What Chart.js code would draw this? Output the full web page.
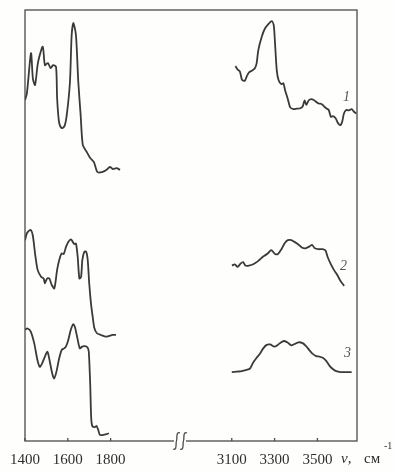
<!DOCTYPE html>
<html>
<head>
<meta charset="utf-8">
<script src="https://cdn.jsdelivr.net/npm/chart.js@4"></script>
<style>
  html, body { margin: 0; padding: 0; background: #fefefc; }
  #wrap { width: 395px; height: 472px; position: relative; }
</style>
</head>
<body>
<div id="wrap"><canvas id="spectra"></canvas></div>
<script>
// wavenumbers (cm-1) and relative intensity
const tickValues = [1400, 1600, 1800, 3100, 3300, 3500];
const breakShift = 734; // the axis is cut between 1800 and 3100

const c1LeftNu = [1400, 1409, 1428, 1437, 1447, 1461, 1483, 1493, 1507, 1520, 1531, 1545, 1550, 1559, 1571, 1584, 1595, 1610, 1618, 1626, 1638, 1649, 1660, 1670, 1688, 1704, 1722, 1738, 1759, 1780, 1797, 1810, 1828, 1844];
const c1LeftI = [79.1, 80.7, 90.0, 84.0, 82.6, 87.9, 91.5, 87.2, 87.7, 86.5, 87.2, 86.8, 79.6, 74.0, 72.6, 73.0, 75.6, 83.3, 94.2, 97.0, 94.2, 83.3, 75.6, 68.7, 67.1, 65.7, 64.7, 62.4, 62.4, 62.9, 63.6, 63.1, 63.3, 62.9];
const c1RightNu = [3117, 3127, 3138, 3148, 3161, 3169, 3180, 3193, 3208, 3216, 3224, 3240, 3255, 3274, 3287, 3296, 3302, 3310, 3318, 3331, 3341, 3349, 3362, 3373, 3388, 3404, 3420, 3431, 3440, 3448, 3459, 3472, 3483, 3494, 3506, 3519, 3530, 3541, 3553, 3563, 3572, 3585, 3597, 3608, 3616, 3624, 3635, 3647, 3660, 3671, 3682];
const c1RightI = [87.0, 86.2, 85.7, 83.8, 83.6, 84.5, 85.5, 85.9, 86.5, 87.6, 90.7, 93.8, 95.7, 96.9, 97.4, 96.5, 92.3, 86.1, 83.8, 82.8, 83.0, 81.4, 79.3, 77.4, 77.0, 77.1, 77.2, 77.6, 79.0, 78.0, 79.0, 79.3, 79.1, 78.7, 78.3, 78.2, 77.7, 77.2, 76.8, 75.2, 75.4, 74.9, 73.7, 73.3, 74.1, 76.0, 76.8, 76.7, 77.0, 76.4, 76.0];

const c2LeftNu = [1400, 1409, 1425, 1436, 1447, 1459, 1475, 1487, 1493, 1503, 1514, 1525, 1537, 1550, 1560, 1571, 1581, 1592, 1602, 1615, 1623, 1630, 1638, 1646, 1654, 1662, 1668, 1677, 1686, 1693, 1700, 1708, 1716, 1724, 1736, 1755, 1779, 1794, 1810, 1825];
const c2LeftI = [46.6, 48.2, 49.0, 47.8, 43.5, 39.7, 38.1, 37.7, 36.6, 37.7, 37.7, 36.2, 35.4, 39.7, 42.0, 43.5, 43.4, 45.1, 46.2, 46.8, 46.2, 45.7, 45.8, 42.8, 37.7, 38.1, 42.0, 43.9, 43.9, 42.0, 36.6, 32.0, 28.9, 26.2, 25.0, 24.6, 24.2, 24.4, 24.6, 24.6];
const c2RightNu = [3101, 3114, 3127, 3142, 3153, 3164, 3180, 3200, 3224, 3247, 3268, 3284, 3302, 3316, 3332, 3347, 3362, 3378, 3393, 3411, 3427, 3444, 3462, 3475, 3488, 3505, 3524, 3538, 3547, 3561, 3577, 3593, 3608, 3625];
const c2RightI = [40.7, 41.0, 40.4, 41.2, 41.5, 40.7, 40.7, 41.0, 41.8, 42.8, 43.5, 44.3, 43.4, 43.4, 44.5, 45.9, 46.6, 46.6, 46.2, 45.6, 44.9, 44.7, 45.1, 45.5, 44.7, 44.5, 44.5, 44.2, 42.8, 41.2, 39.7, 38.5, 37.1, 36.0];

const c3LeftNu = [1400, 1412, 1427, 1443, 1458, 1469, 1480, 1493, 1505, 1516, 1527, 1536, 1547, 1558, 1571, 1583, 1591, 1602, 1614, 1625, 1633, 1645, 1656, 1667, 1679, 1692, 1698, 1705, 1709, 1714, 1726, 1734, 1742, 1750, 1765, 1781, 1792];
const c3LeftI = [25.8, 26.1, 25.4, 22.7, 18.8, 17.2, 18.0, 19.6, 20.7, 18.4, 15.7, 14.5, 16.1, 18.8, 21.1, 21.5, 21.9, 23.4, 25.8, 27.1, 26.5, 23.8, 21.5, 21.9, 22.0, 21.7, 20.7, 12.6, 5.6, 3.5, 3.2, 3.5, 2.6, 1.4, 1.4, 1.6, 1.8];
const c3RightNu = [3100, 3124, 3147, 3169, 3185, 3200, 3216, 3232, 3247, 3263, 3279, 3299, 3315, 3331, 3346, 3362, 3378, 3393, 3412, 3431, 3447, 3462, 3478, 3494, 3509, 3525, 3541, 3556, 3572, 3588, 3608, 3632, 3660];
const c3RightI = [16.0, 16.1, 16.2, 16.5, 16.8, 18.2, 19.3, 20.3, 21.5, 22.3, 22.4, 21.9, 22.3, 22.9, 23.2, 22.8, 22.2, 22.5, 22.9, 22.7, 22.0, 21.1, 20.2, 19.7, 19.6, 19.3, 18.6, 17.5, 16.7, 16.2, 16.0, 16.0, 16.0];

const curveNames = ["1", "2", "3"];
const labelNu = [3636, 3622, 3641];
const labelI = [79.8, 40.6, 20.4];

function toAxis(nu) {
  return nu > 2000 ? nu - breakShift : nu;
}

function pts(nu, val) {
  return nu.map((n, i) => ({ x: toAxis(n), y: val[i] }));
}

function curve(leftNu, leftI, rightNu, rightI) {
  // null point keeps the two halves apart
  return pts(leftNu, leftI).concat([{ x: 2124, y: null }], pts(rightNu, rightI));
}

const ink = "#3a3a3a";

const frame = {
  id: "frame",
  afterDraw(chart) {
    const { ctx, chartArea: a, scales } = chart;
    const xs = scales.x, ys = scales.y;
    ctx.save();
    ctx.strokeStyle = "#4a4a4a";
    ctx.lineWidth = 1.3;
    ctx.strokeRect(a.left, a.top, a.right - a.left, a.bottom - a.top);

    // small inward ticks
    xs.ticks.forEach((t) => {
      const px = xs.getPixelForValue(t.value);
      ctx.beginPath();
      ctx.moveTo(px, a.bottom);
      ctx.lineTo(px, a.bottom - 3);
      ctx.stroke();
    });

    // axis break mark
    const bx = xs.getPixelForValue(2124);
    ctx.fillStyle = "#fefefc";
    ctx.fillRect(bx - 6, a.bottom - 2, 12, 4);
    ctx.lineWidth = 1.3;
    [-3.5, 3.5].forEach((dx) => {
      const x0 = bx + dx;
      ctx.beginPath();
      ctx.moveTo(x0 - 3.5, a.bottom + 8);
      ctx.bezierCurveTo(x0 + 1, a.bottom + 10, x0 - 1, a.bottom + 1, x0, a.bottom);
      ctx.bezierCurveTo(x0 + 1, a.bottom - 1, x0 - 1, a.bottom - 10, x0 + 3.5, a.bottom - 8);
      ctx.stroke();
    });

    // curve numbers
    ctx.fillStyle = "#555";
    ctx.font = "italic 14px 'Liberation Serif', serif";
    ctx.textAlign = "center";
    ctx.textBaseline = "middle";
    curveNames.forEach((n, i) => {
      ctx.fillText(n, xs.getPixelForValue(toAxis(labelNu[i])), ys.getPixelForValue(labelI[i]));
    });

    // unit label
    ctx.fillStyle = "#2e2e2e";
    ctx.textAlign = "left";
    ctx.textBaseline = "alphabetic";
    ctx.font = "italic 15px 'Liberation Serif', serif";
    ctx.fillText("ν,", 341, 463);
    ctx.font = "15px 'Liberation Serif', serif";
    ctx.fillText("см", 364, 463);
    ctx.font = "10px 'Liberation Serif', serif";
    ctx.fillText("-1", 384, 449);
    ctx.restore();
  },
};

new Chart(document.getElementById("spectra"), {
  type: "line",
  data: {
    datasets: [
      { label: "1", data: curve(c1LeftNu, c1LeftI, c1RightNu, c1RightI) },
      { label: "2", data: curve(c2LeftNu, c2LeftI, c2RightNu, c2RightI) },
      { label: "3", data: curve(c3LeftNu, c3LeftI, c3RightNu, c3RightI) },
    ].map((d) => ({
      ...d,
      borderColor: ink,
      borderWidth: 1.8,
      pointRadius: 0,
      tension: 0.25,
      spanGaps: false,
    })),
  },
  options: {
    responsive: true,
    maintainAspectRatio: false,
    animation: false,
    layout: {
      padding: { left: 25, right: 38, top: 10, bottom: 0 },
    },
    scales: {
      x: {
        type: "linear",
        min: 1400,
        max: 2951,
        afterBuildTicks: (scale) => {
          scale.ticks = tickValues.map((v) => ({ value: toAxis(v) }));
        },
        afterFit: (scale) => {
          scale.height = 31;
        },
        grid: { display: false },
        border: { display: false },
        ticks: {
          padding: 2,
          color: "#2e2e2e",
          font: { family: "'Liberation Serif', serif", size: 15 },
          callback: (value) => (value > 2000 ? value + breakShift : value),
          maxRotation: 0,
        },
      },
      y: {
        display: false,
        min: 0,
        max: 100,
      },
    },
    plugins: {
      legend: { display: false },
      tooltip: { enabled: false },
    },
  },
  plugins: [frame],
});
</script>
</body>
</html>
